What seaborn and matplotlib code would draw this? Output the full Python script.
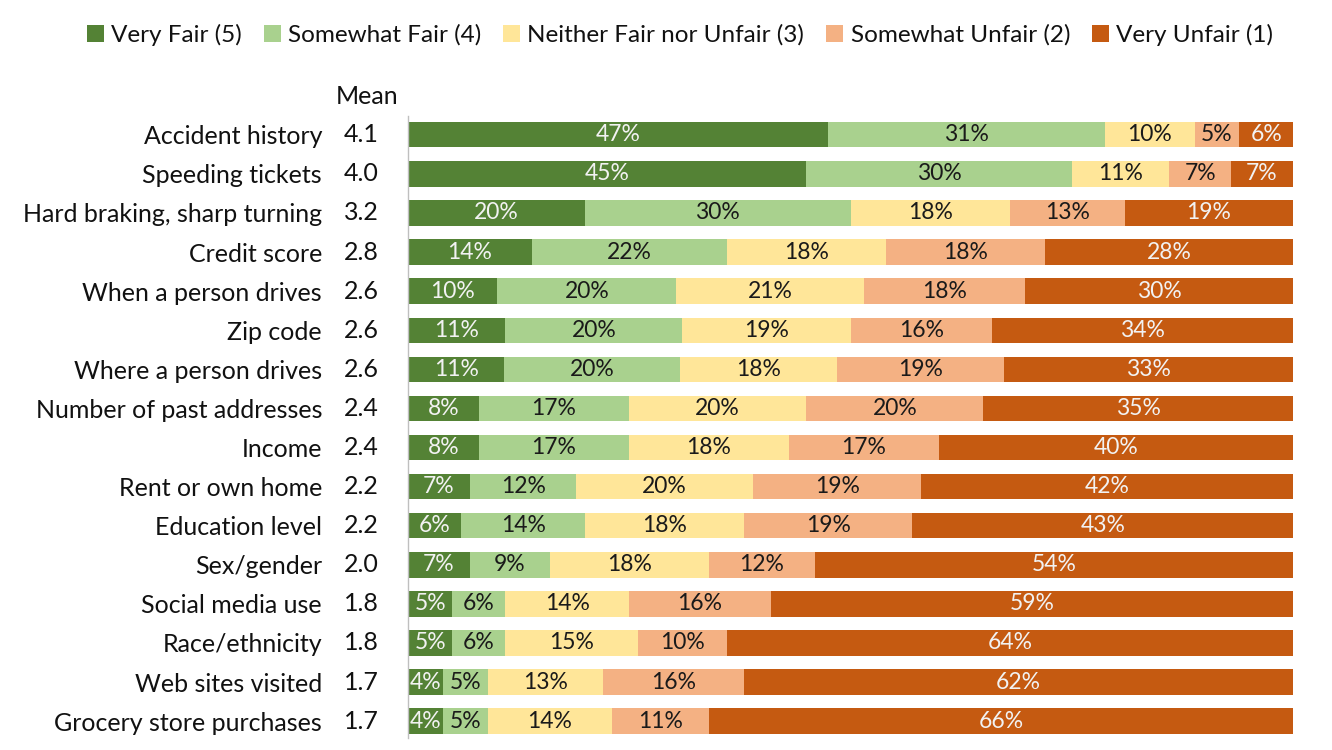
import matplotlib
matplotlib.use("Agg")
import matplotlib.pyplot as plt
import matplotlib.transforms as mtransforms
from matplotlib.patches import Patch
import seaborn as sns
import numpy as np
import pandas as pd

categories = ["Accident history", "Speeding tickets", "Hard braking, sharp turning",
              "Credit score", "When a person drives", "Zip code", "Where a person drives",
              "Number of past addresses", "Income", "Rent or own home", "Education level",
              "Sex/gender", "Social media use", "Race/ethnicity", "Web sites visited",
              "Grocery store purchases"]
means = ["4.1", "4.0", "3.2", "2.8", "2.6", "2.6", "2.6", "2.4", "2.4", "2.2", "2.2",
         "2.0", "1.8", "1.8", "1.7", "1.7"]

very_fair = [47, 45, 20, 14, 10, 11, 11, 8, 8, 7, 6, 7, 5, 5, 4, 4]
somewhat_fair = [31, 30, 30, 22, 20, 20, 20, 17, 17, 12, 14, 9, 6, 6, 5, 5]
neither = [10, 11, 18, 18, 21, 19, 18, 20, 18, 20, 18, 18, 14, 15, 13, 14]
somewhat_unfair = [5, 7, 13, 18, 18, 16, 19, 20, 17, 19, 19, 12, 16, 10, 16, 11]
very_unfair = [6, 7, 19, 28, 30, 34, 33, 35, 40, 42, 43, 54, 59, 64, 62, 66]

series_names = ["Very Fair (5)", "Somewhat Fair (4)", "Neither Fair nor Unfair (3)",
                "Somewhat Unfair (2)", "Very Unfair (1)"]
colors = ["#548235", "#A9D18E", "#FFE699", "#F4B183", "#C55A11"]
text_colors = ["#F2F2F2", "#1a1a1a", "#1a1a1a", "#1a1a1a", "#F2F2F2"]

sns.set_theme(style="white")
plt.rcParams["font.family"] = ["Lato", "DejaVu Sans"]

vals = np.array([very_fair, somewhat_fair, neither, somewhat_unfair, very_unfair], dtype=float)
norm = vals / vals.sum(axis=0) * 100
cum = np.cumsum(norm, axis=0)

fig = plt.figure(figsize=(13.32, 7.5), dpi=100)
ax = fig.add_axes([408 / 1332, 12 / 750, 885 / 1332, 622 / 750])

for i in range(4, -1, -1):
    df = pd.DataFrame({"cat": categories, "val": cum[i]})
    sns.barplot(data=df, x="val", y="cat", orient="h", color=colors[i],
                saturation=1, width=0.65, ax=ax, linewidth=0)

for i in range(5):
    start = cum[i] - norm[i]
    for j in range(len(categories)):
        ax.text(start[j] + norm[i][j] / 2, j, f"{int(vals[i][j])}%", ha="center",
                va="center", fontsize=16.5, color=text_colors[i])

ax.set_xlim(0, 100)
ax.set_ylim(len(categories) - 1 + 0.43, -0.48)
ax.set_xlabel("")
ax.set_ylabel("")
ax.set_xticks([])
ax.tick_params(axis="y", length=0, pad=86 * 72 / 100, labelsize=18, labelcolor="#111111")
for s in ["top", "right", "bottom"]:
    ax.spines[s].set_visible(False)
ax.spines["left"].set_color("#BFBFBF")
ax.spines["left"].set_linewidth(1)

trans = mtransforms.blended_transform_factory(ax.transAxes, ax.transData)
for j, m in enumerate(means):
    ax.text(-(408 - 361) / 885, j, m, transform=trans, ha="center", va="center",
            fontsize=18, color="#111111")
fig.text(367 / 1332, 1 - 97 / 750, "Mean", ha="center", va="center", fontsize=18,
         color="#111111")

handles = [Patch(facecolor=c, edgecolor="none", label=n) for c, n in zip(colors, series_names)]
fig.legend(handles=handles, loc="center", bbox_to_anchor=(680 / 1332, 1 - 35 / 750), ncol=5,
           frameon=False, fontsize=17.5, handlelength=0.7, handleheight=0.7,
           handletextpad=0.3, columnspacing=0.9, labelcolor="#111111")

fig.savefig("out.png", dpi=100, facecolor="white")
